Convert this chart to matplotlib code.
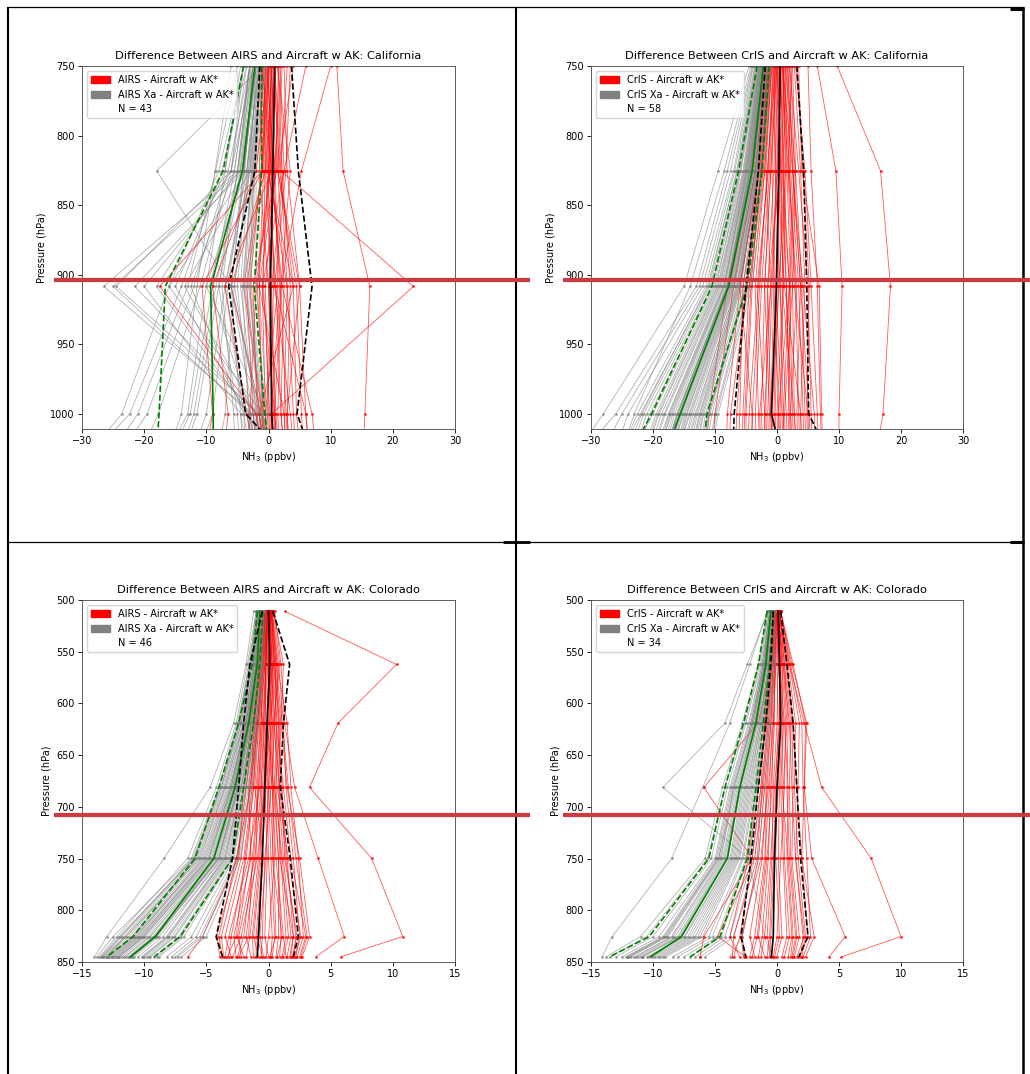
import matplotlib
matplotlib.use("Agg")
import matplotlib.pyplot as plt
from matplotlib.patches import Patch
from matplotlib.lines import Line2D

plt.rcParams['font.family'] = ['DejaVu Sans']

# ---------------- pressure levels (hPa) ----------------
LEVELS_CA = [749.9, 825.4, 908.5, 1000.0, 1013.0]
LEVELS_CO = [510.9, 562.3, 618.9, 681.2, 749.9, 825.4, 845.0]

# ---------------- AIRS California (N = 43) ----------------
AIRS_CA_RED = [
    [0.2, 0.5, 0.8, 0.4, 0.5], [-0.5, -0.8, -1.5, -1.0, -0.8], [1.0, 1.5, 2.5, 2.0, 2.2],
    [0.5, 0.0, -1.0, -0.5, -0.3], [-1.0, -0.5, 0.5, 1.0, 1.2], [1.5, 2.2, 3.5, 3.0, 3.2],
    [0.0, -1.2, -3.0, -1.5, -1.0], [2.0, 1.0, 0.0, 0.8, 1.0], [-0.8, -0.3, 1.2, 2.0, 2.3],
    [0.8, 1.8, 4.0, 4.5, 4.8], [-0.3, 0.2, -2.0, -3.0, -3.2], [1.2, 0.5, 2.0, 1.5, 1.6],
    [0.3, 1.0, -0.5, 0.0, 0.2], [-1.5, -1.0, -4.0, -1.0, -0.7], [2.5, 3.0, 5.0, 6.0, 6.3],
    [0.6, -0.5, -6.0, -1.2, -0.8], [-0.2, 0.8, 1.8, 0.5, 0.6], [1.8, 2.5, 0.5, -0.2, 0.0],
    [0.0, 0.3, -1.8, -0.8, -0.6], [-0.6, 0.0, 3.0, 2.5, 2.7], [1.0, 0.2, 1.0, 3.5, 3.8],
    [0.4, 1.3, -2.5, -1.8, -1.6], [-1.2, -1.0, -3.5, -2.5, -2.2], [2.2, 1.5, 4.5, 5.3, 5.5],
    [0.9, 0.0, 0.2, 1.2, 1.4], [-0.4, 1.1, 1.5, -0.5, -0.4], [1.4, 3.5, 2.0, 1.0, 1.1],
    [0.1, -0.6, -0.8, 0.2, 0.3], [3.0, 2.0, 3.0, 4.0, 4.2], [-0.9, -1.5, 0.0, 0.6, 0.8],
    [0.7, 0.4, 2.2, 7.0, 7.3], [11.0, 12.0, 16.3, 15.5, 15.4], [1.0, 2.0, 23.3, 0.5, 0.6],
    [0.0, -1.0, -17.5, -2.0, -1.5], [-0.5, -1.0, -10.7, -9.0, -9.5], [0.0, -2.0, -9.0, -6.5, -6.8],
    [6.0, 2.5, -1.0, 1.0, 1.2], [10.0, 5.3, 2.0, 2.8, 3.0], [4.0, 1.5, 5.0, 3.0, 3.1],
    [-1.0, 0.5, -7.0, -3.5, -3.0], [3.5, 2.8, 1.0, 6.0, 6.2], [0.5, -0.2, 4.0, -1.5, -1.2],
    [1.6, 1.2, -1.5, 2.5, 2.6],
]
AIRS_CA_GRAY = [
    [-3.0, -5.0, -26.5, -2.5, -2.0], [-2.5, -4.5, -25.0, -3.0, -2.5], [-3.5, -6.0, -24.5, -1.5, -1.0],
    [-2.0, -4.0, -21.5, -2.0, -1.8], [-1.5, -3.5, -16.0, -1.0, -0.8], [-4.0, -7.0, -15.0, -3.5, -3.0],
    [-2.0, -3.0, -13.5, -2.0, -1.5], [-1.0, -18.0, -6.0, -1.5, -1.2], [-3.0, -5.5, -12.5, -4.0, -3.5],
    [-2.5, -4.0, -10.0, -0.5, -0.3], [-4.0, -8.0, -16.0, -23.6, -26.0], [-3.5, -7.5, -14.0, -22.3, -25.0],
    [-5.0, -8.5, -13.0, -21.0, -23.0], [-3.0, -6.5, -12.0, -19.5, -21.5], [-2.5, -6.0, -11.0, -17.7, -19.0],
    [-3.0, -5.5, -9.0, -12.6, -14.0], [-2.0, -4.5, -8.5, -12.0, -13.0], [-2.5, -5.0, -8.0, -11.5, -12.5],
    [-1.5, -3.5, -7.0, -10.0, -11.0], [-4.5, -7.0, -10.0, -13.0, -14.5], [-6.0, -8.6, -11.5, -14.0, -15.0],
    [-2.0, -4.0, -6.5, -9.0, -10.0], [-1.0, -3.0, -5.5, -7.0, -7.5], [-3.0, -5.0, -7.5, -5.6, -5.5],
    [-2.0, -4.0, -6.0, -4.5, -4.3], [-1.0, -2.4, -3.0, -1.0, -0.8], [-1.5, -2.8, -4.0, -2.0, -1.8],
    [-0.5, -2.0, -2.0, -0.5, -0.4], [-2.0, -3.5, -5.0, -3.0, -2.8], [-1.2, -2.5, -3.5, -1.5, -1.3],
    [-0.8, -2.2, -2.8, -0.8, -0.6], [-2.5, -3.8, -6.0, -2.5, -2.2], [-1.8, -3.2, -4.5, -2.2, -2.0],
    [-0.3, -1.5, -1.5, -0.3, -0.2], [-1.5, -3.0, -7.0, -4.0, -3.8], [-2.2, -4.2, -8.0, -5.0, -4.8],
    [-1.0, -2.6, -4.2, -3.2, -3.0], [-3.0, -4.8, -9.5, -2.8, -2.5], [-0.6, -2.3, -3.2, -1.2, -1.0],
    [-1.7, -3.3, -5.5, -1.8, -1.6], [-4.0, -6.0, -18.0, -3.0, -2.6], [-2.8, -4.6, -20.0, -4.5, -4.0],
    [-1.3, -2.7, -3.8, -0.9, -0.7],
]
AIRS_CA_RED_MEAN = [1.0, 0.7, 0.3, 0.5, 0.7]
AIRS_CA_RED_LO = [-1.4, -2.2, -6.4, -3.7, -1.0]
AIRS_CA_RED_HI = [3.7, 4.8, 7.0, 4.6, 5.6]
AIRS_CA_GRAY_MEAN = [-2.2, -4.2, -9.3, -8.9, -8.9]
AIRS_CA_GRAY_LO = [-4.0, -7.3, -16.6, -17.6, -17.8]
AIRS_CA_GRAY_HI = [-1.1, -1.1, -2.3, -0.6, -0.3]

# ---------------- CrIS California (N = 58) ----------------
CRIS_CA_RED = [
    [0.5, 0.3, 0.0, -0.5, -0.4], [-1.0, -2.0, -4.0, -5.0, -5.0], [1.0, 2.0, 3.0, 3.5, 3.6],
    [-2.0, -4.0, -8.0, -11.0, -11.2], [2.0, 3.5, 5.0, 5.5, 5.6], [0.0, -1.0, -2.0, -2.5, -2.4],
    [1.5, 1.0, 1.5, 2.0, 2.1], [-0.5, -1.5, -3.0, -4.5, -4.6], [3.0, 4.5, 5.5, 6.5, 6.6],
    [0.2, 0.5, 1.0, 0.5, 0.6], [-1.5, -3.0, -6.0, -8.0, -8.1], [0.8, 1.8, 2.5, 2.8, 3.0],
    [-0.2, -0.5, -1.5, -1.0, -0.8], [2.5, 3.0, 4.0, 4.5, 4.6], [-1.0, -2.5, -5.0, -6.5, -6.6],
    [1.2, 0.8, 0.5, 1.5, 1.6], [0.0, 0.0, -1.0, -2.0, -2.0], [9.7, 16.7, 18.3, 17.1, 16.6],
    [6.5, 9.5, 10.5, 10.0, 10.0], [5.0, 5.5, 6.5, 7.0, 7.1], [-0.8, -2.0, -3.5, -3.0, -2.9],
    [1.8, 2.2, 3.5, 4.2, 4.3], [-1.2, -2.2, -4.5, -5.5, -5.6], [0.6, 1.0, 2.0, 1.0, 1.1],
    [-0.3, -0.8, -0.5, 0.3, 0.4], [2.2, 2.8, 2.0, 2.5, 2.6], [0.4, 0.0, -0.8, -1.5, -1.4],
    [-1.8, -3.5, -7.0, -10.0, -10.2], [1.0, 1.5, 1.0, 0.0, 0.1], [3.5, 4.0, 6.8, 7.2, 7.3],
    [-0.6, -1.2, -2.5, -3.5, -3.4], [0.9, 2.5, 3.8, 3.2, 3.3], [0.1, -0.3, 0.5, 1.0, 1.1],
    [-1.3, -2.8, -6.0, -4.0, -3.9], [1.6, 2.0, 2.8, 5.0, 5.1], [-0.4, -1.0, -2.0, -1.2, -1.1],
    [0.7, 0.2, -0.2, 0.8, 0.9], [2.8, 3.8, 4.5, 3.8, 3.9], [-0.9, -1.8, -1.0, -2.8, -2.7],
    [0.3, 0.6, 1.5, 2.2, 2.3], [-2.2, -3.0, -4.8, -7.5, -7.6], [1.4, 1.6, 2.2, 1.8, 1.9],
    [-0.1, 0.4, 0.2, -0.3, -0.2], [2.0, 2.5, 4.2, 6.0, 6.1], [-0.7, -1.4, -3.2, -2.0, -1.9],
    [0.5, 1.2, 0.8, 2.8, 2.9], [1.1, 0.5, -1.5, -1.8, -1.7], [-1.6, -2.4, -5.5, -6.0, -6.1],
    [0.0, 0.8, 2.0, 0.2, 0.3], [3.2, 4.2, 5.2, 4.8, 4.9], [-0.5, -0.2, -0.5, -1.0, -0.9],
    [1.3, 3.0, 2.5, 1.2, 1.3], [-1.1, -2.6, -4.2, -5.2, -5.3], [0.6, 0.1, 1.2, 3.8, 3.9],
    [2.4, 1.8, 3.2, 2.2, 2.3], [-0.2, -1.6, -2.8, -4.0, -4.1], [0.9, 1.4, 0.3, -0.8, -0.7],
    [1.7, 2.6, 3.8, 5.2, 5.3],
]
CRIS_CA_GRAY = [
    [-2.0, -4.0, -7.5, -15.0, -16.0], [-3.0, -5.5, -10.0, -20.0, -21.5], [-1.5, -3.0, -6.0, -12.0, -12.5],
    [-4.0, -8.0, -13.0, -26.0, -28.5], [-2.5, -4.5, -8.0, -16.0, -17.0], [-1.0, -2.5, -4.5, -10.0, -10.5],
    [-3.5, -6.5, -11.0, -22.0, -23.5], [-2.2, -4.2, -7.8, -15.5, -16.5], [-1.8, -3.6, -6.8, -13.5, -14.3],
    [-2.8, -5.0, -9.0, -18.0, -19.0], [-4.5, -9.5, -15.0, -28.0, -30.0], [-1.2, -2.8, -5.0, -11.0, -11.5],
    [-2.6, -4.8, -8.5, -17.0, -18.0], [-3.2, -6.0, -10.5, -21.0, -22.0], [-2.0, -3.8, -7.0, -14.0, -15.0],
    [-1.6, -3.4, -6.4, -12.5, -13.2], [-3.8, -7.0, -12.0, -24.0, -25.0], [-2.4, -4.6, -8.2, -16.5, -17.3],
    [-1.4, -3.2, -5.8, -11.5, -12.0], [-2.9, -5.2, -9.5, -19.0, -20.0], [-2.1, -4.1, -7.6, -15.2, -16.0],
    [-3.3, -6.2, -10.8, -21.5, -22.5], [-1.7, -3.5, -6.6, -13.0, -13.8], [-2.7, -5.0, -8.8, -17.5, -18.5],
    [-0.8, -2.2, -4.0, -9.5, -10.0], [-2.3, -4.4, -8.0, -16.2, -17.0], [-1.9, -3.7, -7.2, -14.5, -15.2],
    [-3.0, -5.8, -9.8, -19.5, -20.5], [-1.3, -3.0, -5.5, -11.2, -11.8], [-2.5, -4.7, -8.4, -16.8, -17.6],
    [-4.2, -8.5, -14.0, -23.0, -24.0], [-1.1, -2.6, -4.8, -10.5, -11.0], [-2.2, -4.3, -7.9, -15.8, -16.6],
    [-3.6, -6.8, -11.5, -22.5, -23.8], [-1.5, -3.3, -6.2, -12.2, -12.8], [-2.0, -4.0, -7.4, -14.8, -15.6],
    [-2.6, -4.9, -8.6, -17.2, -18.0], [-1.8, -3.5, -6.9, -13.8, -14.5], [-3.1, -5.9, -10.2, -20.5, -21.5],
    [-2.4, -4.5, -8.1, -16.0, -16.8], [-0.9, -2.4, -4.3, -9.8, -10.2], [-2.7, -5.1, -9.2, -18.2, -19.2],
    [-1.6, -3.3, -6.3, -12.8, -13.5], [-2.1, -4.2, -7.7, -15.4, -16.2], [-3.4, -6.4, -11.2, -21.8, -23.0],
    [-1.4, -3.1, -5.9, -11.8, -12.4], [-2.3, -4.4, -8.0, -16.0, -17.0], [-2.9, -5.4, -9.6, -19.2, -20.2],
    [-1.7, -3.4, -6.5, -13.2, -14.0], [-2.0, -3.9, -7.3, -14.6, -15.4], [-1.0, -2.7, -5.0, -10.8, -11.3],
    [-2.5, -4.8, -8.6, -17.4, -18.2], [-3.9, -7.5, -12.5, -25.0, -26.5], [-1.2, -2.9, -5.2, -11.0, -11.6],
    [-2.2, -4.3, -7.8, -15.6, -16.4], [-1.9, -3.8, -7.1, -14.2, -15.0], [-2.8, -5.3, -9.3, -18.6, -19.6],
    [-1.5, -3.2, -6.1, -12.4, -13.0],
]
CRIS_CA_RED_MEAN = [0.5, 0.3, -0.1, -0.9, -0.2]
CRIS_CA_RED_LO = [-1.9, -3.0, -5.0, -6.9, -7.0]
CRIS_CA_RED_HI = [3.2, 4.3, 4.8, 5.1, 6.5]
CRIS_CA_GRAY_MEAN = [-2.2, -4.0, -7.8, -15.6, -16.7]
CRIS_CA_GRAY_LO = [-3.2, -6.2, -10.5, -20.2, -21.8]
CRIS_CA_GRAY_HI = [-1.3, -2.4, -4.8, -11.3, -11.6]

# ---------------- AIRS Colorado (N = 46) ----------------
AIRS_CO_RED = [
    [1.3, 10.3, 5.6, 3.3, 8.3, 10.8, 5.8], [0.5, 1.0, 1.3, 2.1, 4.0, 6.1, 3.8],
    [0.2, 0.5, 1.0, 1.5, 2.5, 3.3, 2.7], [-0.3, -0.8, -1.2, -1.8, -2.5, -5.3, -6.5],
    [0.0, 0.2, 0.0, -0.2, -0.5, -1.0, -1.0], [0.1, 0.5, 0.8, 1.0, 1.5, 2.0, 1.8],
    [-0.2, -0.5, -1.0, -1.2, -1.8, -3.0, -3.2], [0.3, 0.8, 1.2, 1.4, 2.0, 2.5, 2.2],
    [-0.1, -0.2, -0.5, -0.8, -1.2, -2.0, -2.5], [0.2, 0.0, 0.3, 0.5, 0.8, 1.0, 0.9],
    [-0.3, -0.6, -0.8, -1.5, -2.2, -3.8, -3.6], [0.0, -0.1, -0.3, 0.0, 0.2, 0.5, 0.3],
    [0.4, 1.2, 1.0, 0.8, 1.2, 1.8, 1.5], [-0.2, -0.4, -0.6, -1.0, -1.5, -2.5, -2.0],
    [0.1, 0.3, 0.5, 0.2, -0.3, -0.5, -0.6], [-0.4, -1.0, -1.4, -2.0, -2.4, -4.2, -3.9],
    [0.2, 0.6, 0.6, 1.2, 1.8, 3.0, 2.5], [0.0, 0.1, -0.2, -0.5, -0.8, -1.5, -1.8],
    [-0.1, -0.3, -0.2, 0.3, 0.5, 0.0, -0.2], [0.3, 0.4, 0.9, 0.6, 1.0, 1.4, 1.1],
    [-0.2, -0.7, -1.1, -1.3, -2.0, -3.5, -3.0], [0.1, 0.2, 0.4, 0.9, 1.4, 2.2, 2.0],
    [0.0, -0.3, -0.7, -0.9, -1.0, -1.8, -1.4], [0.2, 0.7, 1.5, 1.8, 2.4, 2.8, 2.3],
    [-0.3, -0.2, -0.4, -0.6, -0.6, -1.2, -0.8], [0.1, 0.0, 0.2, -0.1, 0.0, 0.3, 0.2],
    [-0.1, -0.5, -0.9, -1.6, -1.4, -2.8, -2.6], [0.4, 0.9, 0.4, 0.3, 0.6, 1.2, 1.4],
    [-0.2, -0.1, 0.1, -0.3, -0.9, -2.2, -2.9], [0.0, 0.3, 0.7, 0.5, 1.1, 1.6, 1.2],
    [-0.3, -0.8, -0.5, -0.7, -1.6, -3.2, -3.5], [0.2, 0.1, -0.1, 0.4, 0.8, 0.8, 0.6],
    [-0.1, -0.4, -0.8, -1.1, -0.4, -0.9, -0.5], [0.3, 0.6, 1.1, 1.6, 2.2, 3.1, 2.6],
    [0.0, -0.2, -0.3, -0.6, -1.1, -2.4, -2.2], [0.1, 0.4, 0.2, 0.1, 0.4, 0.6, 0.1],
    [-0.2, -0.6, -1.2, -1.4, -2.6, -4.0, -3.7], [0.2, 0.5, 0.6, 0.9, 0.9, 2.0, 1.7],
    [-0.1, 0.0, -0.1, -0.4, -0.7, -1.3, -1.2], [0.1, 0.2, 0.5, 0.7, 1.6, 2.6, 2.1],
    [-0.3, -0.4, -0.9, -1.2, -1.9, -2.6, -3.3], [0.0, 0.1, 0.3, 0.0, -0.2, -0.7, -0.4],
    [0.3, 0.7, 0.8, 1.1, 1.3, 2.3, 1.9], [-0.2, -0.3, -0.6, -0.8, -1.3, -1.6, -2.4],
    [0.1, 0.3, 0.1, 0.4, 0.3, 1.1, 0.7], [-0.1, -0.2, -0.4, -0.3, -0.1, -0.3, 0.0],
]
AIRS_CO_GRAY = [
    [-0.5, -0.8, -1.5, -2.5, -4.0, -9.0, -11.0], [-0.8, -1.2, -2.0, -3.5, -5.5, -11.5, -13.0],
    [-0.3, -0.5, -1.0, -1.8, -3.0, -7.0, -9.0], [-1.2, -1.8, -2.8, -4.7, -8.4, -13.0, -14.0],
    [-0.6, -1.0, -1.7, -2.8, -4.5, -10.0, -12.0], [-0.4, -0.7, -1.3, -2.2, -3.5, -8.0, -10.0],
    [-0.9, -1.4, -2.3, -3.8, -6.0, -12.0, -13.5], [-0.2, -0.4, -0.8, -1.5, -2.5, -5.5, -7.5],
    [-0.7, -1.1, -1.9, -3.0, -5.0, -10.5, -12.5], [-0.5, -0.9, -1.6, -2.6, -4.2, -9.5, -11.5],
    [-1.0, -1.5, -2.5, -4.0, -6.2, -12.5, -13.8], [-0.3, -0.6, -1.1, -2.0, -3.2, -7.5, -9.5],
    [-0.6, -1.0, -1.8, -2.9, -4.8, -10.2, -12.2], [-0.4, -0.8, -1.4, -2.4, -3.8, -8.5, -10.5],
    [-0.8, -1.3, -2.1, -3.4, -5.6, -11.0, -13.0], [-0.2, -0.5, -0.9, -1.7, -2.8, -6.2, -8.2],
    [-0.6, -1.1, -1.8, -3.1, -5.2, -10.8, -12.8], [-0.5, -0.9, -1.5, -2.5, -4.0, -9.2, -11.2],
    [-0.9, -1.6, -2.4, -3.9, -6.0, -11.8, -13.3], [-0.3, -0.7, -1.2, -2.1, -3.4, -7.8, -9.8],
    [-0.7, -1.2, -2.0, -3.2, -5.3, -10.6, -12.6], [-0.4, -0.8, -1.3, -2.3, -3.7, -8.8, -10.8],
    [-0.5, -1.0, -1.6, -2.7, -4.4, -9.8, -11.8], [-0.2, -0.4, -0.7, -1.3, -2.3, -5.0, -7.0],
    [-0.8, -1.4, -2.2, -3.6, -5.8, -11.2, -13.2], [-0.6, -1.0, -1.7, -2.8, -4.6, -10.0, -12.0],
    [-0.3, -0.6, -1.0, -1.9, -3.1, -7.2, -9.2], [-1.0, -1.7, -2.6, -4.2, -6.5, -12.2, -13.6],
    [-0.5, -0.9, -1.5, -2.6, -4.3, -9.6, -11.6], [-0.4, -0.7, -1.2, -2.2, -3.6, -8.2, -10.2],
    [-0.7, -1.2, -2.0, -3.3, -5.4, -10.9, -12.9], [-0.3, -0.5, -1.0, -1.8, -2.9, -6.8, -8.8],
    [-0.6, -1.1, -1.8, -3.0, -4.9, -10.3, -12.3], [-0.5, -0.8, -1.4, -2.4, -3.9, -9.0, -11.0],
    [-0.8, -1.3, -2.2, -3.5, -5.7, -11.4, -13.4], [-0.2, -0.5, -0.9, -1.6, -2.6, -5.8, -7.8],
    [-0.6, -1.0, -1.7, -2.9, -4.7, -10.1, -12.1], [-0.4, -0.9, -1.5, -2.5, -4.1, -9.3, -11.3],
    [-0.9, -1.5, -2.4, -3.8, -6.1, -11.9, -13.4], [-0.3, -0.6, -1.1, -2.0, -3.3, -7.6, -9.6],
    [-0.7, -1.2, -1.9, -3.1, -5.1, -10.7, -12.7], [-0.5, -0.8, -1.4, -2.4, -4.0, -9.1, -11.1],
    [-0.4, -0.7, -1.3, -2.2, -3.5, -8.1, -10.1], [-0.6, -1.1, -1.8, -3.0, -4.8, -10.4, -12.4],
    [-0.2, -0.4, -0.8, -1.4, -2.4, -5.3, -7.3], [-0.8, -1.4, -2.3, -3.7, -5.9, -11.6, -13.1],
]
AIRS_CO_RED_MEAN = [0.0, 0.1, -0.1, -0.3, -0.5, -0.8, -0.9]
AIRS_CO_RED_LO = [-0.5, -1.5, -2.0, -2.4, -2.9, -4.2, -3.7]
AIRS_CO_RED_HI = [0.35, 1.7, 1.2, 0.95, 1.75, 2.4, 2.0]
AIRS_CO_GRAY_MEAN = [-0.7, -0.9, -1.6, -2.7, -4.4, -9.1, -11.1]
AIRS_CO_GRAY_LO = [-0.9, -1.3, -2.4, -4.0, -5.9, -10.9, -13.0]
AIRS_CO_GRAY_HI = [-0.45, -0.7, -1.2, -2.0, -2.9, -7.1, -9.2]

# ---------------- CrIS Colorado (N = 34) ----------------
CRIS_CO_RED = [
    [0.1, 1.0, 2.2, 3.6, 7.6, 10.0, 5.2], [0.3, 1.2, 2.4, 2.2, 2.8, 5.5, 4.2],
    [0.0, -0.5, -1.5, -5.9, -2.0, -3.0, -3.5], [0.0, 0.2, 0.3, 0.1, -0.2, -0.5, -0.6],
    [0.2, 0.8, 1.3, 1.6, 2.0, 2.5, 1.8], [-0.2, -0.3, -0.6, -1.0, -1.5, -2.8, -2.6],
    [0.1, 0.5, 1.0, 1.2, 1.5, 2.2, 1.6], [0.3, 1.3, 2.3, 2.2, 2.0, 3.0, 2.3],
    [-0.1, -0.2, -0.4, -0.6, -1.0, -1.8, -2.2], [0.0, 0.1, 0.5, 0.3, 0.5, 0.8, 0.4],
    [0.2, 0.6, 0.9, 0.8, 1.0, 1.5, 1.2], [-0.3, -0.5, -0.9, -1.5, -2.3, -3.8, -3.0],
    [0.1, 0.3, 0.2, -0.2, -0.5, -1.0, -1.3], [0.0, -0.1, -0.3, -0.4, -0.8, -1.5, -1.0],
    [0.3, 1.0, 1.8, 1.7, 1.5, 2.1, 1.9], [-0.2, -0.4, -0.7, -1.1, -1.8, -4.8, -2.5],
    [0.1, 0.4, 0.7, 0.6, 0.3, 0.0, -0.3], [0.0, 0.0, 0.1, -0.1, -0.3, -0.6, -0.8],
    [0.2, 0.7, 1.2, 1.3, 1.2, 1.8, 1.4], [-0.1, -0.3, -0.5, -0.8, -1.2, -2.2, -1.8],
    [0.1, 0.2, 0.6, 0.9, 0.8, 1.2, 0.9], [0.0, 0.3, 0.4, 0.2, 0.1, 0.4, 0.0],
    [-0.2, -0.6, -1.0, -1.3, -2.0, -5.9, -6.2], [0.2, 0.9, 1.5, 1.4, 1.7, 2.3, 2.0],
    [0.0, -0.2, -0.2, -0.5, -0.7, -1.2, -1.5], [0.1, 0.5, 0.8, 0.5, 0.6, 1.0, 0.6],
    [-0.1, -0.1, -0.3, -0.7, -1.3, -2.9, -2.7], [0.3, 1.1, 2.0, 2.1, 2.4, 2.7, 2.1],
    [0.0, 0.1, 0.0, -0.3, -0.4, -0.8, -0.4], [0.1, 0.4, 0.5, 0.4, 0.9, 1.3, 1.1],
    [-0.2, -0.4, -0.8, -1.2, -1.6, -3.5, -3.6], [0.0, 0.2, 0.2, 0.0, -0.1, 0.2, -0.2],
    [0.2, 0.6, 1.1, 1.0, 1.1, 1.6, 1.3], [-0.1, -0.2, -0.5, -0.9, -0.9, -1.6, -2.0],
]
CRIS_CO_GRAY = [
    [-0.7, -2.4, -4.2, -9.2, -2.3, -1.0, -0.5], [-0.8, -2.2, -3.8, -6.0, -8.5, -13.3, -14.1],
    [-0.3, -0.6, -1.2, -2.0, -3.0, -6.0, -9.0], [-0.5, -1.0, -2.0, -3.5, -4.5, -8.5, -11.5],
    [-0.2, -0.4, -0.9, -1.6, -2.4, -4.5, -7.0], [-0.6, -1.2, -2.3, -3.8, -5.0, -9.5, -12.5],
    [-0.4, -0.8, -1.6, -2.8, -3.8, -7.5, -10.5], [-0.3, -0.7, -1.4, -2.4, -3.4, -6.8, -9.8],
    [-0.7, -1.4, -2.6, -4.2, -5.6, -10.5, -13.5], [-0.1, -0.3, -0.7, -1.3, -2.0, -3.8, -6.2],
    [-0.5, -0.9, -1.8, -3.0, -4.2, -8.0, -11.0], [-0.4, -0.8, -1.5, -2.6, -3.6, -7.2, -10.2],
    [-0.6, -1.1, -2.1, -3.6, -4.8, -9.0, -12.0], [-0.2, -0.5, -1.0, -1.8, -2.7, -5.2, -8.0],
    [-0.5, -1.0, -1.9, -3.2, -4.4, -8.4, -11.4], [-0.3, -0.6, -1.3, -2.2, -3.2, -6.4, -9.4],
    [-0.8, -1.5, -2.8, -4.4, -5.8, -11.0, -13.8], [-0.2, -0.4, -0.8, -1.5, -2.2, -4.2, -6.6],
    [-0.4, -0.9, -1.7, -2.9, -4.0, -7.8, -10.8], [-0.5, -1.0, -2.0, -3.3, -4.6, -8.8, -11.8],
    [-0.3, -0.7, -1.3, -2.3, -3.3, -6.6, -9.6], [-0.6, -1.2, -2.2, -3.7, -4.9, -9.2, -12.2],
    [-0.1, -0.3, -0.6, -1.2, -1.8, -3.5, -5.8], [-0.4, -0.8, -1.6, -2.7, -3.7, -7.4, -10.4],
    [-0.5, -1.1, -2.1, -3.4, -4.7, -8.9, -11.9], [-0.2, -0.5, -1.1, -1.9, -2.8, -5.5, -8.4],
    [-0.7, -1.3, -2.5, -4.0, -5.3, -10.0, -13.0], [-0.3, -0.6, -1.2, -2.1, -3.1, -6.2, -9.2],
    [-0.4, -0.9, -1.8, -3.0, -4.1, -7.9, -10.9], [-0.6, -1.1, -2.0, -3.5, -4.7, -9.1, -12.1],
    [-0.2, -0.4, -0.9, -1.7, -2.5, -4.8, -7.5], [-0.5, -1.0, -1.9, -3.1, -4.3, -8.2, -11.2],
    [-0.3, -0.7, -1.4, -2.5, -3.5, -7.0, -10.0], [-0.1, -0.2, -0.5, -1.0, -1.5, -2.8, -3.8],
]
CRIS_CO_RED_MEAN = [0.1, 0.2, 0.3, 0.0, -0.2, -0.3, -0.45]
CRIS_CO_RED_LO = [-0.3, -0.5, -0.9, -1.5, -2.1, -2.9, -2.5]
CRIS_CO_RED_HI = [0.3, 0.8, 1.3, 1.6, 1.9, 2.5, 1.75]
CRIS_CO_GRAY_MEAN = [-0.5, -0.9, -1.7, -3.0, -4.0, -7.7, -10.2]
CRIS_CO_GRAY_LO = [-0.8, -1.5, -2.7, -4.2, -5.5, -10.3, -13.5]
CRIS_CO_GRAY_HI = [-0.3, -0.6, -1.1, -1.7, -2.4, -4.6, -7.0]

# ---------------- axes settings ----------------
XTICKS_CA = [-30, -20, -10, 0, 10, 20, 30]
YTICKS_CA = [750, 800, 850, 900, 950, 1000]
XTICKS_CO = [-15, -10, -5, 0, 5, 10, 15]
YTICKS_CO = [500, 550, 600, 650, 700, 750, 800, 850]

W, H = 1030, 1074
fig = plt.figure(figsize=(W / 100, H / 100), dpi=100)


def rect(x0, y0, x1, y1):
    return [x0 / W, 1 - y1 / H, (x1 - x0) / W, (y1 - y0) / H]


panels = [
    dict(box=(82, 66, 455, 429), sat='AIRS', region='California', levels=LEVELS_CA,
         red=AIRS_CA_RED, gray=AIRS_CA_GRAY,
         stats=(AIRS_CA_RED_MEAN, AIRS_CA_RED_LO, AIRS_CA_RED_HI,
                AIRS_CA_GRAY_MEAN, AIRS_CA_GRAY_LO, AIRS_CA_GRAY_HI),
         xlim=(-30, 30), ylim=(1011, 750), xt=XTICKS_CA, yt=YTICKS_CA),
    dict(box=(591, 66, 963, 429), sat='CrIS', region='California', levels=LEVELS_CA,
         red=CRIS_CA_RED, gray=CRIS_CA_GRAY,
         stats=(CRIS_CA_RED_MEAN, CRIS_CA_RED_LO, CRIS_CA_RED_HI,
                CRIS_CA_GRAY_MEAN, CRIS_CA_GRAY_LO, CRIS_CA_GRAY_HI),
         xlim=(-30, 30), ylim=(1011, 750), xt=XTICKS_CA, yt=YTICKS_CA),
    dict(box=(82, 600, 455, 962), sat='AIRS', region='Colorado', levels=LEVELS_CO,
         red=AIRS_CO_RED, gray=AIRS_CO_GRAY,
         stats=(AIRS_CO_RED_MEAN, AIRS_CO_RED_LO, AIRS_CO_RED_HI,
                AIRS_CO_GRAY_MEAN, AIRS_CO_GRAY_LO, AIRS_CO_GRAY_HI),
         xlim=(-15, 15), ylim=(850, 500), xt=XTICKS_CO, yt=YTICKS_CO),
    dict(box=(591, 600, 963, 962), sat='CrIS', region='Colorado', levels=LEVELS_CO,
         red=CRIS_CO_RED, gray=CRIS_CO_GRAY,
         stats=(CRIS_CO_RED_MEAN, CRIS_CO_RED_LO, CRIS_CO_RED_HI,
                CRIS_CO_GRAY_MEAN, CRIS_CO_GRAY_LO, CRIS_CO_GRAY_HI),
         xlim=(-15, 15), ylim=(850, 500), xt=XTICKS_CO, yt=YTICKS_CO),
]

FS = 7.0
for p in panels:
    ax = fig.add_axes(rect(*p['box']))
    lev = p['levels']
    for r, g in zip(p['red'], p['gray']):
        ax.plot(r, lev, color='red', lw=0.6, alpha=0.65, marker='.', ms=2.2)
        ax.plot(g, lev, color='gray', lw=0.6, alpha=0.6, marker='.', ms=2.2)
    rm, rlo, rhi, gm, glo, ghi = p['stats']
    ax.plot(gm, lev, color='green', lw=1.2)
    ax.plot(glo, lev, color='green', lw=1.2, ls='--')
    ax.plot(ghi, lev, color='green', lw=1.2, ls='--')
    ax.plot(rm, lev, color='black', lw=1.2)
    ax.plot(rlo, lev, color='black', lw=1.2, ls='--')
    ax.plot(rhi, lev, color='black', lw=1.2, ls='--')

    ax.set_xlim(*p['xlim'])
    ax.set_ylim(*p['ylim'])
    ax.set_xticks(p['xt'])
    ax.set_yticks(p['yt'])
    ax.tick_params(labelsize=FS, length=2.7, width=0.6, pad=2.5)
    for s in ax.spines.values():
        s.set_linewidth(0.6)
        s.set_color('#444444')
    ax.set_title(f"Difference Between {p['sat']} and Aircraft w AK: {p['region']}",
                 fontsize=8.2, pad=5)
    ax.set_xlabel('NH$_3$ (ppbv)', fontsize=FS, labelpad=2.5)
    ax.set_ylabel('Pressure (hPa)', fontsize=FS, labelpad=3)
    handles = [Patch(color='red'), Patch(color='gray'), Patch(color='none')]
    labels = [f"{p['sat']} - Aircraft w AK*", f"{p['sat']} Xa - Aircraft w AK*",
              f"N = {len(p['red'])}"]
    ax.legend(handles, labels, loc='upper left', fontsize=FS, framealpha=0.8)


def fline(x0, y0, x1, y1, color, lw):
    fig.add_artist(Line2D([x0 / W, x1 / W], [1 - y0 / H, 1 - y1 / H],
                          transform=fig.transFigure, color=color, lw=lw,
                          solid_capstyle='butt', zorder=20))


# panel frame lines
fline(7, 7, 1024, 7, 'black', 0.9)
fline(8, 7, 8, 1074, 'black', 1.5)
fline(516, 7, 516, 1074, 'black', 1.5)
fline(1023, 7, 1023, 1074, 'black', 1.8)
fline(8, 541.5, 1024, 541.5, 'black', 0.9)
fline(1010, 8.5, 1024, 8.5, 'black', 2.2)
fline(503, 541.8, 530, 541.8, 'black', 2.0)
fline(1010, 542, 1024, 542, 'black', 2.2)

# red marker lines
RED_BAR = '#cf3a40'
fline(54, 279.5, 530, 279.5, RED_BAR, 3.0)
fline(563, 279.5, 1030, 279.5, RED_BAR, 3.0)
fline(54, 815.3, 530, 815.3, RED_BAR, 3.0)
fline(563, 815.3, 1030, 815.3, RED_BAR, 3.0)

fig.savefig('out.png', dpi=100)
